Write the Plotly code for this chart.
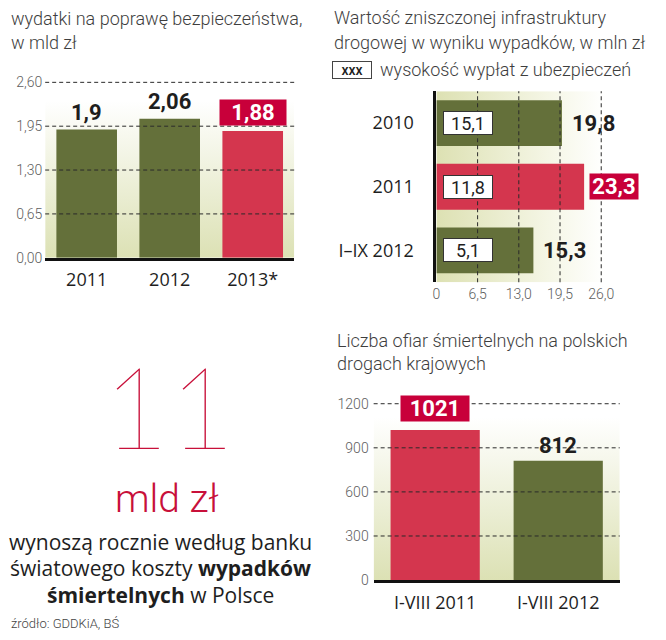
import base64
import plotly.graph_objects as go

# wydatki na poprawę bezpieczeństwa, w mld zł
spend_years = ["2011", "2012", "2013*"]
spend_values = [1.9, 2.06, 1.88]
spend_ticks = [0, 0.65, 1.30, 1.95, 2.60]

# wartość zniszczonej infrastruktury drogowej, w mln zł
damage_periods = ["2010", "2011", "I–IX 2012"]
damage_values = [19.8, 23.3, 15.3]
insurance_values = [15.1, 11.8, 5.1]
damage_ticks = [0, 6.5, 13.0, 19.5, 26.0]
damage_ticktext = ["0", "6,5", "13,0", "19,5", "26,0"]

# liczba ofiar śmiertelnych na drogach krajowych
deaths_periods = ["I-VIII 2011", "I-VIII 2012"]
deaths_values = [1021, 812]
deaths_ticks = [0, 300, 600, 900, 1200]

GREEN = "#64703a"
RED = "#d4364e"
LABEL_RED = "#c8003a"
DARK = "#1e1e1e"
GREY = "#5e5e5e"
LIGHT_FONT = "Roboto"
BOLD_FONT = "Roboto"
CAT_FONT = "Open Sans"
GRID_DASH = "4px,3px"


def fmt(v):
    return f"{v:g}".replace(".", ",")


def px_x(p):
    return p / 666


def px_y(p):
    return 1 - p / 640


def gradient(stops, horizontal=False):
    x2, y2 = ("1", "0") if horizontal else ("0", "1")
    st = "".join(f'<stop offset="{o}" stop-color="{c}"/>' for o, c in stops)
    svg = (
        '<svg xmlns="http://www.w3.org/2000/svg" width="100" height="100" '
        'preserveAspectRatio="none"><defs>'
        f'<linearGradient id="g" x1="0" y1="0" x2="{x2}" y2="{y2}">{st}</linearGradient>'
        '</defs><rect width="100" height="100" fill="url(#g)"/></svg>'
    )
    return "data:image/svg+xml;base64," + base64.b64encode(svg.encode()).decode()


# plot areas in pixels: (left, top, right, bottom)
box1 = (42, 75.5, 296, 258)
box2 = (441, 88, 613, 283)
box3 = (377, 402.5, 628, 587)

fig = go.Figure()

fig.add_trace(go.Bar(
    x=spend_years, y=spend_values, width=0.73,
    marker=dict(color=[RED if i == 2 else GREEN for i in range(len(spend_values))], line_width=0),
    xaxis="x", yaxis="y", hoverinfo="skip",
))
fig.add_trace(go.Bar(
    x=damage_values, y=damage_periods, orientation="h", width=0.72,
    marker=dict(color=[RED if i == 1 else GREEN for i in range(len(damage_values))], line_width=0),
    xaxis="x2", yaxis="y2", hoverinfo="skip",
))
fig.add_trace(go.Bar(
    x=deaths_periods, y=deaths_values, width=0.725,
    marker=dict(color=[RED if i == 0 else GREEN for i in range(len(deaths_values))], line_width=0),
    xaxis="x3", yaxis="y3", hoverinfo="skip",
))

grid_line = dict(color="#2a2a2a", width=1, dash=GRID_DASH)
shapes = []
for v in spend_ticks[1:]:
    shapes.append(dict(type="line", xref="paper", yref="y", x0=px_x(box1[0]), x1=px_x(box1[2]),
                       y0=v, y1=v, line=grid_line, layer="above"))
for v in damage_ticks[1:]:
    shapes.append(dict(type="line", xref="x2", yref="paper", x0=v, x1=v,
                       y0=px_y(box2[3]), y1=px_y(box2[1]), line=grid_line, layer="above"))
for v in deaths_ticks[1:]:
    shapes.append(dict(type="line", xref="paper", yref="y3", x0=px_x(box3[0]), x1=px_x(box3[2]),
                       y0=v, y1=v, line=grid_line, layer="above"))


def bg_image(box, stops, horizontal=False):
    l, t, r, b = box
    return dict(source=gradient(stops, horizontal), xref="paper", yref="paper",
                x=px_x(l), y=px_y(t), sizex=px_x(r) - px_x(l), sizey=px_y(t) - px_y(b),
                xanchor="left", yanchor="top", sizing="stretch", layer="below")


images = [
    bg_image(box1, [(0, "#ffffff"), (0.12, "#ffffff"), (1, "#dce1b4")]),
    bg_image(box2, [(0, "#dde1b3"), (0.7, "#f6f7e8"), (1, "#ffffff")], horizontal=True),
    bg_image(box3, [(0, "#ffffff"), (0.1, "#ffffff"), (1, "#dce1b4")]),
]

ann = []


def value_label(xref, yref, x, y, text, hl, **kw):
    base = dict(xref=xref, yref=yref, x=x, y=y, text=text, showarrow=False)
    if hl:
        base.update(font=dict(family=BOLD_FONT, size=22, color="white", weight="bold"),
                    bgcolor=LABEL_RED, borderpad=0)
    else:
        base.update(font=dict(family=BOLD_FONT, size=22, color=DARK, weight="bold"))
    base.update(kw)
    ann.append(base)


for i, v in enumerate(spend_values):
    hl = i == 2
    value_label("x", "y", i, v, fmt(v), hl, yanchor="bottom",
                yshift=5 if hl else 3, **(dict(width=66, height=25) if hl else {}))

for i, v in enumerate(damage_values):
    hl = i == 1
    value_label("x2", "y2", v, i, fmt(v), hl, xanchor="left",
                xshift=5 if hl else 8, **(dict(width=48, height=25) if hl else {}))
    ann.append(dict(xref="x2", yref="y2", x=0, y=i, text=fmt(insurance_values[i]),
                    showarrow=False, xanchor="left", xshift=7, width=48, height=22,
                    bgcolor="white", bordercolor="#333", borderwidth=1, borderpad=0,
                    font=dict(family=LIGHT_FONT, size=18, color=DARK)))

for i, v in enumerate(deaths_values):
    hl = i == 0
    value_label("x3", "y3", i, v, fmt(v), hl, yanchor="bottom",
                yshift=8 if hl else 1, **(dict(width=68, height=25) if hl else {}))

title_font = dict(family=LIGHT_FONT, size=18, color="#3e3e3e", weight=300)


def text_at(x, y, text, font, xanchor="left", **kw):
    ann.append(dict(xref="paper", yref="paper", x=px_x(x), y=px_y(y), text=text,
                    showarrow=False, xanchor=xanchor, yanchor="middle", font=font, **kw))


text_at(5, 14, "wydatki na poprawę bezpieczeństwa,", title_font)
text_at(5, 38, "w mld zł", title_font)
text_at(335, 13, "Wartość zniszczonej infrastruktury", title_font)
text_at(335, 38, "drogowej w wyniku wypadków, w mln zł", title_font)
text_at(335, 66, "xxx", dict(family=LIGHT_FONT, size=14, color=DARK, weight=500),
        bordercolor="#444", borderwidth=1, borderpad=0, width=38, height=16)
text_at(381, 66, "wysokość wypłat z ubezpieczeń", title_font)
text_at(338, 342, "Liczba ofiar śmiertelnych na polskich", title_font)
text_at(338, 366, "drogach krajowych", title_font)

text_at(168, 408, "11", dict(family="Lato", size=114, color="#c8103a", weight=200),
        xanchor="center")
text_at(166, 504, "mld zł", dict(family=LIGHT_FONT, size=39, color="#c8103a", weight=300),
        xanchor="center")
body = dict(family=CAT_FONT, size=21, color=DARK, weight=500)
text_at(160, 548, "wynoszą rocznie według banku", body, xanchor="center")
text_at(160, 575, "światowego koszty <b>wypadków</b>", body, xanchor="center")
text_at(160, 602, "<b>śmiertelnych</b> w Polsce", body, xanchor="center")
text_at(5, 631, "źródło: GDDKiA, BŚ", dict(family=LIGHT_FONT, size=13, color="#444", weight=300))

tick_font = dict(family=LIGHT_FONT, size=14, color=GREY, weight=300)
cat_font = dict(family=CAT_FONT, size=18, color=DARK, weight=500)

fig.update_layout(
    width=666, height=640, margin=dict(l=0, r=0, t=0, b=0),
    paper_bgcolor="white", plot_bgcolor="rgba(0,0,0,0)",
    showlegend=False, separators=", ",
    shapes=shapes, images=images, annotations=ann,
    xaxis=dict(domain=[px_x(box1[0]), px_x(box1[2])], anchor="y", type="category",
               categoryorder="array", categoryarray=spend_years,
               range=[-0.5, len(spend_years) - 0.5],
               showline=True, linewidth=3, linecolor="#111", showgrid=False,
               ticks="", tickfont=cat_font, ticklabelstandoff=4),
    yaxis=dict(domain=[px_y(box1[3]), px_y(box1[1])], anchor="x", range=[0, 2.65],
               tickvals=spend_ticks, tickformat=".2f", showgrid=False, zeroline=False,
               ticks="", tickfont=tick_font, ticklabelstandoff=2),
    xaxis2=dict(domain=[px_x(box2[0]), px_x(box2[2])], anchor="y2", range=[0, 26.6],
                tickvals=damage_ticks, ticktext=damage_ticktext, showgrid=False,
                zeroline=False, ticks="", tickfont=tick_font, ticklabelstandoff=2),
    yaxis2=dict(domain=[px_y(box2[3]), px_y(box2[1])], anchor="x2", type="category",
                categoryorder="array", categoryarray=damage_periods,
                range=[len(damage_periods) - 0.5, -0.5],
                showline=True, linewidth=3, linecolor="#111",
                showgrid=False, ticks="", tickfont=cat_font, ticklabelstandoff=16),
    xaxis3=dict(domain=[px_x(box3[0]), px_x(box3[2])], anchor="y3", type="category",
                categoryorder="array", categoryarray=deaths_periods,
                range=[-0.5, len(deaths_periods) - 0.5],
                showline=True, linewidth=3, linecolor="#111", showgrid=False,
                ticks="", tickfont=cat_font, ticklabelstandoff=4),
    yaxis3=dict(domain=[px_y(box3[3]), px_y(box3[1])], anchor="x3", range=[0, 1230],
                tickvals=deaths_ticks, tickformat="d", showgrid=False, zeroline=False,
                ticks="", tickfont=tick_font, ticklabelstandoff=4),
)

# the page's default body margin would push the 666x640 figure out of the window
page_fix = (
    "document.body.style.margin='0';"
    "document.body.style.overflow='hidden';"
    "document.documentElement.style.overflow='hidden';"
)
fig.write_html("out.html", config={"displayModeBar": False}, post_script=page_fix)
